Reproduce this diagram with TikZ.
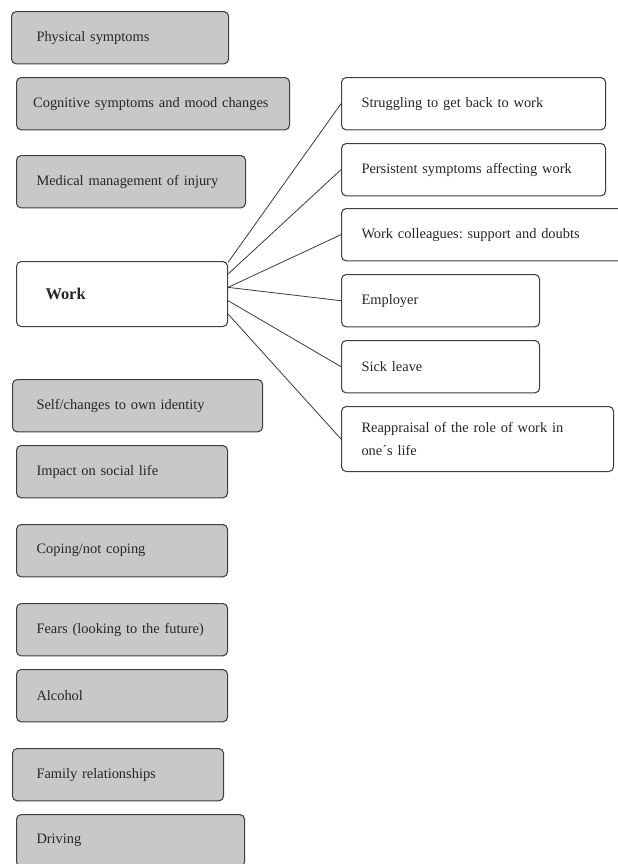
\documentclass[tikz,border=0pt]{standalone}
\usepackage{fontspec}
\setmainfont{Liberation Serif}
\usepackage{xcolor}
\usepackage{tikz}
\usetikzlibrary{positioning}
\definecolor{boxgray}{RGB}{200,200,201}
\definecolor{edgegray}{RGB}{62,62,62}
\frenchspacing

\begin{document}
\begin{tikzpicture}[x=0.03cm, y=-0.03cm,
  theme/.style={draw=edgegray, line width=0.9pt, rounded corners=4pt, anchor=north west,
    align=left, inner xsep=0.6cm, minimum height=1.57cm, text width=#1,
    font=\fontsize{12.3}{20.4}\selectfont, text=black!85},
  topic/.style={theme=#1, fill=boxgray},
  sub/.style={theme=#1, fill=white},
  link/.style={draw=edgegray, line width=0.7pt}]

\useasboundingbox (0,0) rectangle (618,864);
\clip (0,0) rectangle (618,864);

% Left column of themes
\node[topic=5.01cm, inner xsep=0.75cm] (phys) at (11,11) {Physical symptoms};
\node[topic=7.19cm, inner xsep=0.5cm] (cog) at (16,77) {Cognitive symptoms and mood changes};
\node[topic=5.67cm] (med) at (16,155) {Medical management of injury};
\node[sub=4.59cm, inner xsep=0.87cm, minimum height=1.95cm,
  font=\fontsize{14}{16}\selectfont\bfseries] (work) at (16,261) {Work};
\node[topic=6.06cm, inner xsep=0.72cm] (self) at (12,379) {Self/changes to own identity};
\node[topic=5.13cm] (social) at (16,445) {Impact on social life};
\node[topic=5.13cm] (coping) at (16,524) {Coping/not coping};
\node[topic=5.13cm] (fears) at (16,603) {Fears (looking to the future)};
\node[topic=5.13cm] (alcohol) at (16,669) {Alcohol};
\node[topic=4.89cm, inner xsep=0.72cm] (family) at (12,748) {Family relationships};
\node[topic=5.64cm] (driving) at (16,814) {Driving};

% Sub-themes of work
\node[sub=6.72cm] (struggle) at (341,77) {Struggling to get back to work};
\node[sub=6.72cm] (persist) at (341,143) {Persistent symptoms affecting work};
\node[sub=7.35cm] (colleagues) at (341,208) {Work colleagues: support and doubts};
\node[sub=4.74cm] (employer) at (341,274) {Employer};
\node[sub=4.74cm] (sick) at (341,340) {Sick leave};
\node[sub=6.96cm, minimum height=1.95cm] (reappraisal) at (341,406)
  {Reappraisal of the role of work in\\one´s life};

% Links
\draw[link] ([yshift=0.95cm]work.east) -- (struggle.west);
\draw[link] ([yshift=0.6cm]work.east) -- (persist.west);
\draw[link] ([yshift=0.2cm]work.east) -- (colleagues.west);
\draw[link] ([yshift=0.2cm]work.east) -- (employer.west);
\draw[link] ([yshift=-0.2cm]work.east) -- (sick.west);
\draw[link] ([yshift=-0.6cm]work.east) -- (reappraisal.west);

\end{tikzpicture}
\end{document}
